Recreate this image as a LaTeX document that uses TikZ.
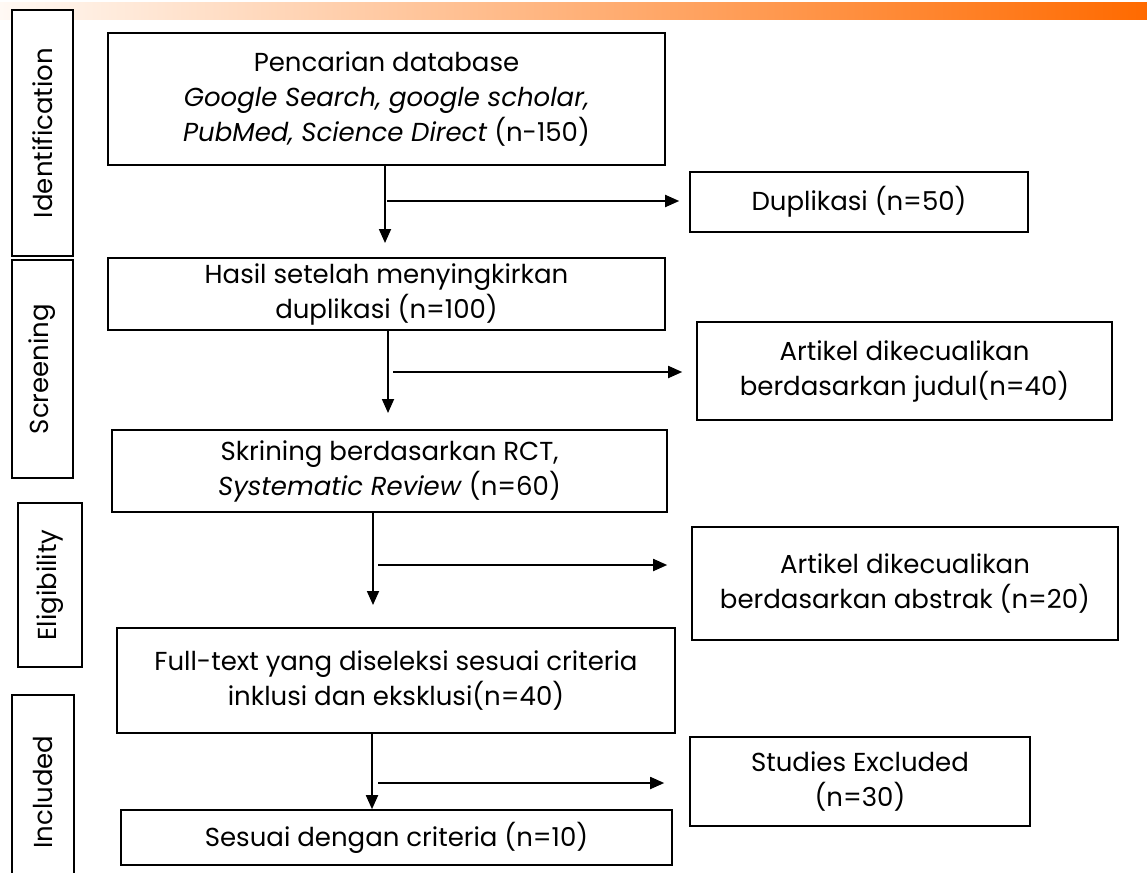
\documentclass[tikz,border=0pt]{standalone}
\usepackage{fontspec}
\setmainfont{Poppins}
\usetikzlibrary{arrows.meta}
\definecolor{barlight}{HTML}{FFF9F4}
\definecolor{barorange}{HTML}{FF6A00}

\begin{document}
\begin{tikzpicture}[x=1pt,y=-1pt,
    box/.style={draw,fill=white,line width=1.6pt,align=center,inner sep=0pt,
      font=\fontsize{26}{35}\selectfont},
    side/.style={draw,fill=white,line width=1.6pt,rotate=90,inner sep=0pt,
      font=\fontsize{26}{30}\selectfont},
    arr/.style={line width=1.8pt,-{Triangle[length=14pt,width=12pt]}}]
    \clip (0,0) rectangle (1147,872);
    \useasboundingbox (0,0) rectangle (1147,872);
    \shade[left color=barlight,right color=barorange] (0,3) rectangle (1147,20);

    % phases
    \node[side,minimum width=246,minimum height=61] (ident) at (42.5,133) {Identification};
    \node[side,minimum width=218,minimum height=61] (screen) at (42.5,369) {Screening};
    \node[side,minimum width=164,minimum height=64] (elig) at (50,585) {Eligibility};
    \node[side,minimum width=194,minimum height=62] (incl) at (43,792) {Included};

    % main column
    \node[box,minimum width=557,minimum height=132] (db) at (386.5,99)
      {Pencarian database\\ \textit{Google Search, google scholar,}\\ \textit{PubMed, Science Direct} (n-150)};
    \node[box,minimum width=557,minimum height=72] (hasil) at (386.5,294)
      {Hasil setelah menyingkirkan\\ duplikasi (n=100)};
    \node[box,minimum width=555,minimum height=82] (rct) at (389.5,471)
      {Skrining berdasarkan RCT,\\ \textit{Systematic Review} (n=60)};
    \node[box,minimum width=558,minimum height=105] (full) at (396,680.5)
      {Full-text yang diseleksi sesuai criteria\\ inklusi dan eksklusi(n=40)};
    \node[box,minimum width=551,minimum height=55] (final) at (396.5,837.5)
      {Sesuai dengan criteria (n=10)};

    % excluded
    \node[box,minimum width=338,minimum height=60] (dup) at (859,202) {Duplikasi (n=50)};
    \node[box,minimum width=415,minimum height=98] (judul) at (904.5,371)
      {Artikel dikecualikan\\ berdasarkan judul(n=40)};
    \node[box,minimum width=426,minimum height=113] (abs) at (905,583.5)
      {Artikel dikecualikan\\ berdasarkan abstrak (n=20)};
    \node[box,minimum width=340,minimum height=89] (stud) at (860,781.5)
      {Studies Excluded\\ (n=30)};

    \coordinate (t1) at (385,243);
    \coordinate (t2) at (388,413);
    \coordinate (t3) at (373,605);
    \coordinate (t4) at (372,810);
    \coordinate (s1) at (387,201);
    \coordinate (s2) at (393,372);
    \coordinate (s3) at (378,565);
    \coordinate (s4) at (378,783);

    \draw[arr] (t1 |- db.south) -- (t1);
    \draw[arr] (t2 |- hasil.south) -- (t2);
    \draw[arr] (t3 |- rct.south) -- (t3);
    \draw[arr] (t4 |- full.south) -- (t4 |- final.north);
    \draw[arr,shorten >=10pt] (s1) -- (s1 -| dup.west);
    \draw[arr,shorten >=14pt] (s2) -- (s2 -| judul.west);
    \draw[arr,shorten >=24pt] (s3) -- (s3 -| abs.west);
    \draw[arr,shorten >=25pt] (s4) -- (s4 -| stud.west);
\end{tikzpicture}
\end{document}
